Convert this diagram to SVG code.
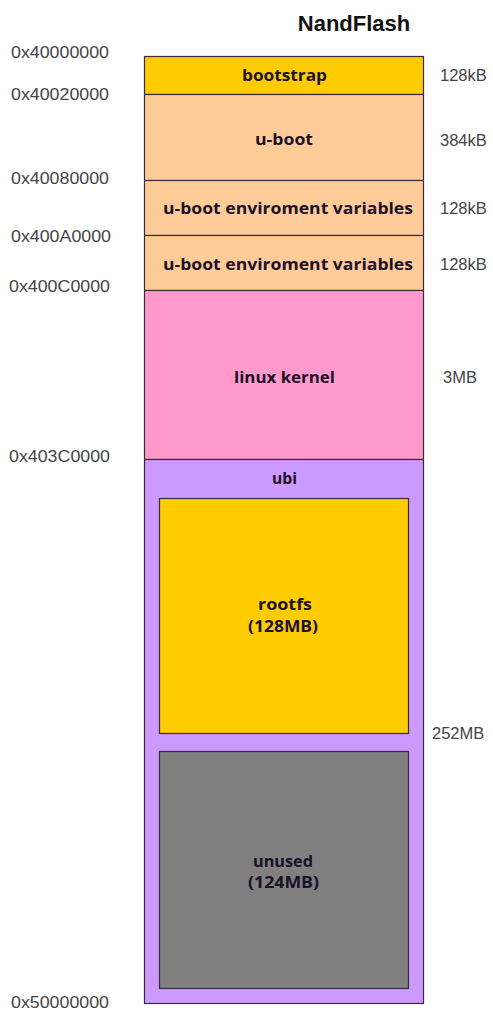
<svg xmlns="http://www.w3.org/2000/svg" width="493" height="1010" viewBox="0 0 493 1010">
<style>
.addr{font-family:"Liberation Sans",Arial,sans-serif;font-size:16.5px;fill:#444}
.size{font-family:"Liberation Sans",Arial,sans-serif;font-size:16.5px;fill:#444;text-anchor:start}
.lbl{font-family:"Open Sans","DejaVu Sans",sans-serif;font-weight:bold;font-size:16px;fill:#1a1028;text-anchor:middle}
.box{stroke:#3a2a3a;stroke-width:1.2}
.title{font-family:"Liberation Sans",Arial,sans-serif;font-weight:bold;font-size:22px;fill:#111;text-anchor:middle}
</style>
<rect width="493" height="1010" fill="#ffffff"/>
<text class="title" x="354" y="31">NandFlash</text>
<g id="addresses">
<text class="addr" x="11" y="58" textLength="98" lengthAdjust="spacingAndGlyphs">0x40000000</text>
<text class="addr" x="11" y="100" textLength="98" lengthAdjust="spacingAndGlyphs">0x40020000</text>
<text class="addr" x="11" y="184" textLength="98" lengthAdjust="spacingAndGlyphs">0x40080000</text>
<text class="addr" x="11" y="242" textLength="100" lengthAdjust="spacingAndGlyphs">0x400A0000</text>
<text class="addr" x="9" y="292" textLength="101" lengthAdjust="spacingAndGlyphs">0x400C0000</text>
<text class="addr" x="9" y="462" textLength="101" lengthAdjust="spacingAndGlyphs">0x403C0000</text>
<text class="addr" x="11" y="1008" textLength="98" lengthAdjust="spacingAndGlyphs">0x50000000</text>
</g>
<g id="bootstrap">
<rect class="box" x="144.5" y="56.5" width="279" height="38" fill="#FFCC00"/>
<text class="lbl" x="284.5" y="81" textLength="85" lengthAdjust="spacingAndGlyphs">bootstrap</text>
<text class="size" x="440" y="81">128kB</text>
</g>
<g id="uboot">
<rect class="box" x="144.5" y="94.5" width="279" height="86" fill="#FFCC99"/>
<text class="lbl" x="284" y="145" textLength="58" lengthAdjust="spacingAndGlyphs">u-boot</text>
<text class="size" x="440" y="146">384kB</text>
</g>
<g id="env1">
<rect class="box" x="144.5" y="180.5" width="279" height="55" fill="#FFCC99"/>
<text class="lbl" x="288" y="214" textLength="250" lengthAdjust="spacingAndGlyphs">u-boot enviroment variables</text>
<text class="size" x="440" y="214">128kB</text>
</g>
<g id="env2">
<rect class="box" x="144.5" y="235.5" width="279" height="55" fill="#FFCC99"/>
<text class="lbl" x="288" y="270" textLength="250" lengthAdjust="spacingAndGlyphs">u-boot enviroment variables</text>
<text class="size" x="440" y="270">128kB</text>
</g>
<g id="kernel">
<rect class="box" x="144.5" y="290.5" width="279" height="169" fill="#FF99CC"/>
<text class="lbl" x="284.5" y="383" textLength="101" lengthAdjust="spacingAndGlyphs">linux kernel</text>
<text class="size" x="443" y="383">3MB</text>
</g>
<g id="ubi">
<rect class="box" x="144.5" y="459.5" width="279" height="544" fill="#CC99FF"/>
<text class="lbl" x="284.5" y="484" textLength="25" lengthAdjust="spacingAndGlyphs">ubi</text>
<text class="size" x="432" y="739">252MB</text>
</g>
<g id="rootfs">
<rect class="box" x="159.5" y="498.5" width="249" height="235" fill="#FFCC00"/>
<text class="lbl" x="285" y="610" textLength="54" lengthAdjust="spacingAndGlyphs">rootfs</text>
<text class="lbl" x="283" y="632" textLength="70" lengthAdjust="spacingAndGlyphs">(128MB)</text>
</g>
<g id="unused">
<rect class="box" x="159.5" y="751.5" width="249" height="237" fill="#808080"/>
<text class="lbl" x="283" y="867" textLength="60" lengthAdjust="spacingAndGlyphs">unused</text>
<text class="lbl" x="283.5" y="888" textLength="71" lengthAdjust="spacingAndGlyphs">(124MB)</text>
</g>
<g id="connectors"></g>
</svg>
